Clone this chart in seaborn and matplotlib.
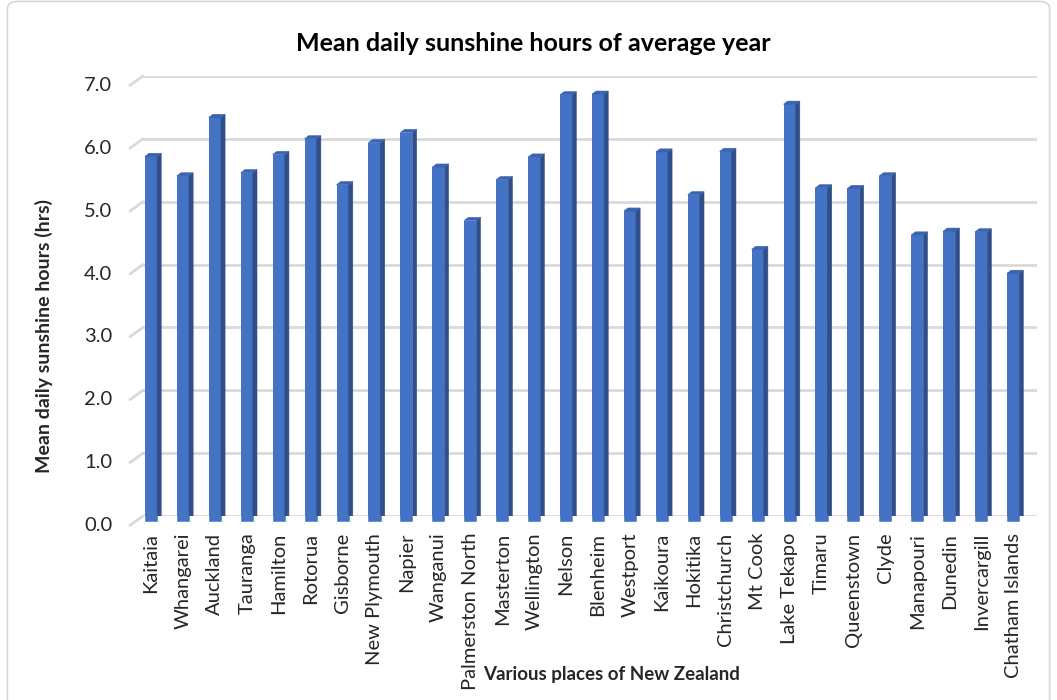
import matplotlib
matplotlib.use('Agg')
import matplotlib.pyplot as plt
from matplotlib.patches import Polygon, FancyBboxPatch
from matplotlib.transforms import ScaledTranslation
import seaborn as sns
import pandas as pd

# data ========================================================================
places = ['Kaitaia', 'Whangarei', 'Auckland', 'Tauranga', 'Hamilton', 'Rotorua',
          'Gisborne', 'New Plymouth', 'Napier', 'Wanganui', 'Palmerston North',
          'Masterton', 'Wellington', 'Nelson', 'Blenheim', 'Westport', 'Kaikoura',
          'Hokitika', 'Christchurch', 'Mt Cook', 'Lake Tekapo', 'Timaru',
          'Queenstown', 'Clyde', 'Manapouri', 'Dunedin', 'Invercargill',
          'Chatham Islands']
sunshine = [5.72, 5.41, 6.34, 5.46, 5.75, 6.00, 5.27, 5.94, 6.10, 5.55, 4.70, 5.35,
            5.71, 6.70, 6.71, 4.85, 5.79, 5.11, 5.80, 4.24, 6.55, 5.22, 5.21, 5.41,
            4.47, 4.53, 4.52, 3.86]
y_ticks = [0, 1, 2, 3, 4, 5, 6, 7]

df = pd.DataFrame({'place': places, 'hours': sunshine})

# estilo ======================================================================
sns.set_style('white')
plt.rcParams['font.family'] = ['Lato', 'DejaVu Sans']

front = '#4472C4'
side = '#2F4F8A'
top = '#3A64B0'
grid = '#D9D9D9'

fig = plt.figure(figsize=(10.57, 7), dpi=100)
ax = fig.add_axes([0.1353, 0.2629, 0.8458, 0.6286])

sns.barplot(data=df, x='place', y='hours', color=front, width=0.38,
            saturation=1, linewidth=0, ax=ax, zorder=3)

# efeito 3D (lado e topo das barras)
dx, dy = 0.13, 0.05
for p in list(ax.patches):
    x0 = p.get_x()
    x1 = x0 + p.get_width()
    h = p.get_height()
    ax.add_patch(Polygon([(x1, -0.08), (x1 + dx, dy - 0.08), (x1 + dx, h + dy), (x1, h)],
                         closed=True, facecolor=side, edgecolor=side, lw=0.4, zorder=3))
    ax.add_patch(Polygon([(x0, h), (x0 + dx, h + dy), (x1 + dx, h + dy), (x1, h)],
                         closed=True, facecolor=top, edgecolor=top, lw=0.4, zorder=3))
    # base da face frontal um pouco abaixo do chão (perspectiva)
    ax.add_patch(Polygon([(x0, -0.08), (x1, -0.08), (x1, 0.01), (x0, 0.01)],
                         closed=True, facecolor=front, edgecolor=front, lw=0.4,
                         zorder=3, clip_on=False))

ax.set_xlim(-0.25, 27.75)
ax.set_ylim(0, 7)
ax.set_yticks(y_ticks)
ax.set_yticklabels([f'{v:.1f}' for v in y_ticks])
for t in y_ticks:
    ax.axhline(t, color=grid, lw=2, zorder=1)
    ax.plot([-0.66, -0.25], [t - 0.15, t], color=grid, lw=2, clip_on=False, zorder=1)

for s in ax.spines.values():
    s.set_visible(False)

ax.tick_params(axis='y', length=0, pad=22, labelsize=14.5, labelcolor='#262626')
ax.tick_params(axis='x', length=0, pad=12, labelsize=14.5, labelcolor='#262626',
               rotation=90)
shift = ScaledTranslation(0, -0.08, fig.dpi_scale_trans)
for lab in ax.get_yticklabels():
    lab.set_transform(lab.get_transform() + shift)

ax.set_title('Mean daily sunshine hours of average year', fontsize=18,
             fontweight='bold', x=0.437, y=1.038, color='black')
ax.set_xlabel('Various places of New Zealand', fontsize=13.5, fontweight='bold')
ax.xaxis.set_label_coords(0.524, -0.34)
ax.set_ylabel('Mean daily sunshine hours (hrs)', fontsize=14, fontweight='bold')
ax.yaxis.set_label_coords(-0.1007, 0.41)

# borda do gráfico
fig.patches.append(FancyBboxPatch((0.007, -0.02), 0.986, 1.018,
                                  boxstyle='round,pad=0,rounding_size=0.01',
                                  transform=fig.transFigure, facecolor='none',
                                  edgecolor=grid, lw=1.2))

fig.savefig('out.png', dpi=100)
